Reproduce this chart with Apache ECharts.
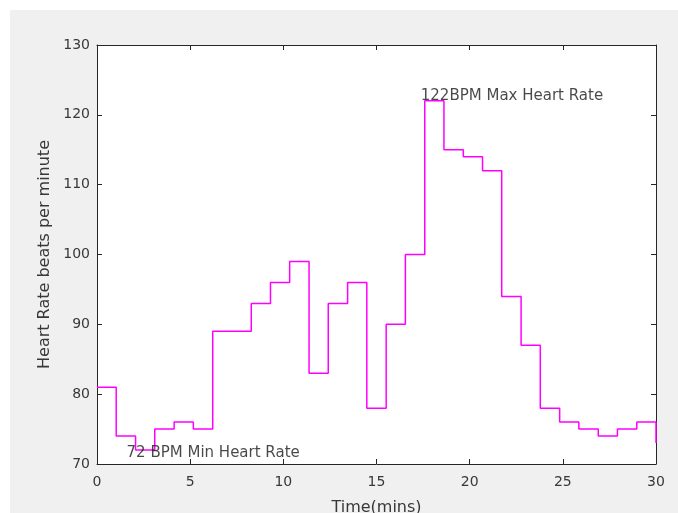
<!DOCTYPE html>
<html>
<head>
<meta charset="utf-8">
<script src="https://cdn.jsdelivr.net/npm/echarts@6/dist/echarts.min.js"></script>
<style>
  html, body { margin: 0; padding: 0; background: #ffffff; }
  #chart { position: absolute; left: 10px; top: 10px; width: 668px; height: 503px; }
</style>
</head>
<body>
<div id="chart"></div>
<script>
// Sample times (minutes) and heart rate readings (beats per minute)
const timeMins = [0, 1.03, 2.07, 3.10, 4.14, 5.17, 6.21, 7.24, 8.28, 9.31,
                  10.34, 11.38, 12.41, 13.45, 14.48, 15.52, 16.55, 17.59, 18.62, 19.66,
                  20.69, 21.72, 22.76, 23.79, 24.83, 25.86, 26.90, 27.93, 28.97, 30.00];
const heartRate = [81, 74, 72, 75, 76, 75, 89, 89, 93, 96,
                   99, 83, 93, 96, 78, 90, 100, 122, 115, 114,
                   112, 94, 87, 78, 76, 75, 74, 75, 76, 73];
const xTicks = [0, 5, 10, 15, 20, 25, 30];
const yTicks = [70, 80, 90, 100, 110, 120, 130];

const FONT = 'DejaVu Sans';
const AXIS_COLOR = '#262626';
const TEXT_COLOR = '#383838';

const minVal = Math.min(...heartRate);
const maxVal = Math.max(...heartRate);
const minIdx = heartRate.indexOf(minVal);
const maxIdx = heartRate.indexOf(maxVal);

const xMin = xTicks[0], xMax = xTicks[xTicks.length - 1];
const yMin = yTicks[0], yMax = yTicks[yTicks.length - 1];
const xStep = xTicks[1] - xTicks[0];
const yStep = yTicks[1] - yTicks[0];

function boxAxis(extra) {
  return Object.assign({
    type: 'value',
    axisLine: { show: true, onZero: false, lineStyle: { color: AXIS_COLOR, width: 1 } },
    axisTick: { show: true, inside: true, length: 5, lineStyle: { color: AXIS_COLOR, width: 1 } },
    splitLine: { show: false },
    axisLabel: { show: false }
  }, extra);
}

const chart = echarts.init(document.getElementById('chart'), null, { renderer: 'canvas' });
chart.setOption({
  backgroundColor: '#f0f0f0',
  animation: false,
  grid: {
    left: 87, right: 22, top: 35, bottom: 49,
    containLabel: false, outerBoundsMode: 'none',
    show: true, backgroundColor: '#ffffff', borderWidth: 0
  },
  xAxis: [
    boxAxis({
      position: 'bottom', min: xMin, max: xMax, interval: xStep,
      axisLabel: { show: true, margin: 11, color: TEXT_COLOR, fontSize: 14, fontFamily: FONT },
      name: 'Time(mins)', nameLocation: 'middle', nameGap: 36,
      nameTextStyle: { color: TEXT_COLOR, fontSize: 16, fontFamily: FONT }
    }),
    boxAxis({ position: 'top', min: xMin, max: xMax, interval: xStep })
  ],
  yAxis: [
    boxAxis({
      position: 'left', min: yMin, max: yMax, interval: yStep,
      axisLabel: { show: true, margin: 7, color: TEXT_COLOR, fontSize: 14, fontFamily: FONT },
      name: 'Heart Rate beats per minute', nameLocation: 'middle', nameGap: 42, nameRotate: 90,
      nameTextStyle: { color: TEXT_COLOR, fontSize: 16, fontFamily: FONT }
    }),
    boxAxis({ position: 'right', min: yMin, max: yMax, interval: yStep })
  ],
  series: [
    {
      type: 'line',
      step: 'end',
      data: timeMins.map((t, i) => [t, heartRate[i]]),
      showSymbol: false,
      symbol: 'none',
      lineStyle: { color: '#ff00ff', width: 1.5 },
      z: 3
    },
    {
      type: 'scatter',
      symbolSize: 0,
      silent: true,
      z: 4,
      data: [
        {
          value: [timeMins[minIdx], minVal],
          label: { offset: [-9, 3], formatter: minVal + ' BPM Min Heart Rate' }
        },
        {
          value: [timeMins[maxIdx], maxVal],
          label: { offset: [-4, -5], formatter: maxVal + 'BPM Max Heart Rate' }
        }
      ],
      label: {
        show: true, position: 'right', distance: 0,
        color: '#1a1a1a', fontSize: 15, fontFamily: FONT
      }
    }
  ]
});
</script>
</body>
</html>
